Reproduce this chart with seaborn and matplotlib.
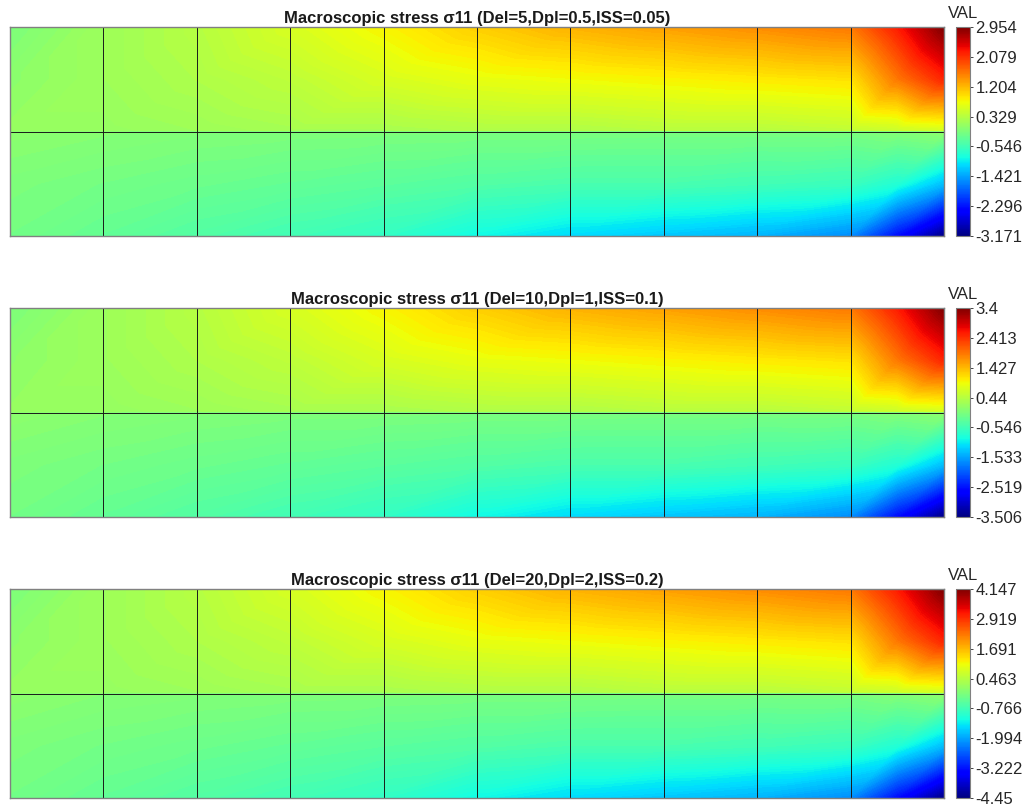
import numpy as np
import matplotlib
matplotlib.use("Agg")
import matplotlib.pyplot as plt
import matplotlib.tri as mtri
import seaborn as sns

sns.set_theme(style="white")
plt.rcParams["font.family"] = ["Liberation Sans", "DejaVu Sans"]

# mesh: 10 x 2 elements, nodal values read per strip (field jumps across y=1)
ELEM_X = [0, 1, 2, 3, 4, 5, 6, 7, 8, 9, 10]
ELEM_Y = [0, 1, 2]
NODE_X = [0, 1, 2, 3, 4, 5, 6, 7, 8, 9, 9.5, 10]
TOP_ROWS_Y = [1.0, 1.5, 2.0]
BOT_ROWS_Y = [0.0, 0.5, 1.0]

# ---- panel 1 (Del=5, Dpl=0.5, ISS=0.05)
P1_TOP_Y1 = [0.08, 0.08, 0.14, 0.20, 0.20, 0.26, 0.26, 0.32, 0.32, 0.38, 0.44, 0.50]
P1_TOP_Y15 = [0.01, 0.14, 0.26, 0.38, 0.57, 0.69, 0.75, 0.81, 0.87, 0.93, 1.61, 2.16]
P1_TOP_Y2 = [-0.11, 0.14, 0.32, 0.57, 0.81, 1.06, 1.24, 1.36, 1.48, 1.61, 2.22, 2.954]
P1_BOT_Y0 = [-0.17, -0.29, -0.42, -0.54, -0.66, -0.90, -1.09, -1.21, -1.33, -1.58, -2.37, -3.171]
P1_BOT_Y05 = [-0.11, -0.17, -0.23, -0.29, -0.35, -0.42, -0.48, -0.48, -0.54, -0.60, -0.78, -1.27]
P1_BOT_Y1 = [0.01, -0.04, -0.08, -0.10, -0.11, -0.12, -0.12, -0.13, -0.13, -0.12, -0.06, 0.02]
P1_TICKS = [-3.171, -2.296, -1.421, -0.546, 0.329, 1.204, 2.079, 2.954]
P1_LABELS = ["-3.171", "-2.296", "-1.421", "-0.546", "0.329", "1.204", "2.079", "2.954"]

# ---- panel 2 (Del=10, Dpl=1, ISS=0.1)
P2_TOP_Y1 = [0.15, 0.15, 0.22, 0.29, 0.29, 0.36, 0.36, 0.43, 0.43, 0.50, 0.57, 0.64]
P2_TOP_Y15 = [0.09, 0.22, 0.36, 0.50, 0.71, 0.85, 0.91, 0.98, 1.05, 1.12, 1.88, 2.50]
P2_TOP_Y2 = [-0.05, 0.22, 0.43, 0.71, 0.98, 1.26, 1.47, 1.60, 1.74, 1.88, 2.57, 3.4]
P2_BOT_Y0 = [-0.12, -0.26, -0.40, -0.54, -0.68, -0.95, -1.16, -1.30, -1.43, -1.71, -2.61, -3.506]
P2_BOT_Y05 = [-0.05, -0.12, -0.19, -0.26, -0.33, -0.40, -0.47, -0.47, -0.54, -0.61, -0.81, -1.37]
P2_BOT_Y1 = [0.09, 0.02, -0.02, -0.05, -0.05, -0.07, -0.07, -0.08, -0.08, -0.07, 0.00, 0.09]
P2_TICKS = [-3.506, -2.519, -1.533, -0.546, 0.44, 1.427, 2.413, 3.4]
P2_LABELS = ["-3.506", "-2.519", "-1.533", "-0.546", "0.44", "1.427", "2.413", "3.4"]

# ---- panel 3 (Del=20, Dpl=2, ISS=0.2)
P3_TOP_Y1 = [0.11, 0.11, 0.19, 0.28, 0.28, 0.36, 0.36, 0.45, 0.45, 0.54, 0.62, 0.71]
P3_TOP_Y15 = [0.02, 0.19, 0.36, 0.54, 0.79, 0.97, 1.05, 1.14, 1.22, 1.31, 2.26, 3.03]
P3_TOP_Y2 = [-0.15, 0.19, 0.45, 0.79, 1.14, 1.48, 1.74, 1.91, 2.08, 2.26, 3.12, 4.147]
P3_BOT_Y0 = [-0.24, -0.41, -0.58, -0.75, -0.93, -1.27, -1.53, -1.70, -1.87, -2.21, -3.33, -4.45]
P3_BOT_Y05 = [-0.15, -0.24, -0.32, -0.41, -0.50, -0.58, -0.67, -0.67, -0.75, -0.84, -1.10, -1.79]
P3_BOT_Y1 = [0.02, -0.07, -0.11, -0.14, -0.15, -0.17, -0.17, -0.19, -0.19, -0.17, -0.08, 0.03]
P3_TICKS = [-4.45, -3.222, -1.994, -0.766, 0.463, 1.691, 2.919, 4.147]
P3_LABELS = ["-4.45", "-3.222", "-1.994", "-0.766", "0.463", "1.691", "2.919", "4.147"]

PANELS = [
    {"title": "Macroscopic stress \u03c311 (Del=5,Dpl=0.5,ISS=0.05)",
     "top": [P1_TOP_Y1, P1_TOP_Y15, P1_TOP_Y2], "bot": [P1_BOT_Y0, P1_BOT_Y05, P1_BOT_Y1],
     "ticks": P1_TICKS, "labels": P1_LABELS},
    {"title": "Macroscopic stress \u03c311 (Del=10,Dpl=1,ISS=0.1)",
     "top": [P2_TOP_Y1, P2_TOP_Y15, P2_TOP_Y2], "bot": [P2_BOT_Y0, P2_BOT_Y05, P2_BOT_Y1],
     "ticks": P2_TICKS, "labels": P2_LABELS},
    {"title": "Macroscopic stress \u03c311 (Del=20,Dpl=2,ISS=0.2)",
     "top": [P3_TOP_Y1, P3_TOP_Y15, P3_TOP_Y2], "bot": [P3_BOT_Y0, P3_BOT_Y05, P3_BOT_Y1],
     "ticks": P3_TICKS, "labels": P3_LABELS},
]

CMAP = matplotlib.colormaps["jet"]
W, H = 1029, 807
AX_LEFT, AX_W, AX_H = 10, 934, 209
CB_LEFT, CB_W = 956, 14
AX_TOPS = [27, 308, 589]
FS = 12


def strip_triangulation(xs, ys):
    """Regular grid of nodes split into two triangles per cell."""
    gx, gy = np.meshgrid(xs, ys)
    nx, ny = len(xs), len(ys)
    tris = []
    for j in range(ny - 1):
        for i in range(nx - 1):
            a = j * nx + i
            b, c = a + 1, a + nx
            d = c + 1
            tris.append([a, b, d])
            tris.append([a, d, c])
    return mtri.Triangulation(gx.ravel(), gy.ravel(), tris)


fig = plt.figure(figsize=(W / 100, H / 100), dpi=100)
fig.patch.set_facecolor("white")

tri_top = strip_triangulation(NODE_X, TOP_ROWS_Y)
tri_bot = strip_triangulation(NODE_X, BOT_ROWS_Y)

for top_px, panel in zip(AX_TOPS, PANELS):
    bottom = 1 - (top_px + AX_H) / H
    ax = fig.add_axes([AX_LEFT / W, bottom, AX_W / W, AX_H / H])
    vmin, vmax = panel["ticks"][0], panel["ticks"][-1]
    levels = np.linspace(vmin, vmax, 160)

    for tri, rows in ((tri_top, panel["top"]), (tri_bot, panel["bot"])):
        z = np.concatenate([np.asarray(r, dtype=float) for r in rows])
        ax.tricontourf(tri, z, levels=levels, cmap=CMAP, vmin=vmin, vmax=vmax,
                       antialiased=False)

    # element edges
    ax.vlines(ELEM_X, ELEM_Y[0], ELEM_Y[-1], colors="#1a1a1a", linewidth=0.7)
    ax.hlines(ELEM_Y, ELEM_X[0], ELEM_X[-1], colors="#1a1a1a", linewidth=0.7)

    ax.set_xlim(ELEM_X[0], ELEM_X[-1])
    ax.set_ylim(ELEM_Y[0], ELEM_Y[-1])
    ax.set_xticks([])
    ax.set_yticks([])
    for sp in ax.spines.values():
        sp.set_color("#808080")
        sp.set_linewidth(1.0)
    ax.set_title(panel["title"], fontsize=FS, fontweight="bold", pad=3, color="#1a1a1a")

    cax = fig.add_axes([CB_LEFT / W, bottom, CB_W / W, AX_H / H])
    sm = plt.cm.ScalarMappable(norm=plt.Normalize(vmin, vmax), cmap=CMAP)
    cb = fig.colorbar(sm, cax=cax, ticks=panel["ticks"])
    cb.ax.set_yticklabels(panel["labels"])
    cb.outline.set_edgecolor("#808080")
    cb.outline.set_linewidth(0.8)
    cax.tick_params(axis="y", right=True, direction="out", length=2.5, width=0.6,
                    labelsize=FS, pad=1.5, colors="#262626")
    cax.text(-0.6, 1.03, "VAL", transform=cax.transAxes, ha="left", va="bottom",
             fontsize=FS, color="#262626")

fig.savefig("out.png", dpi=100, facecolor="white")
